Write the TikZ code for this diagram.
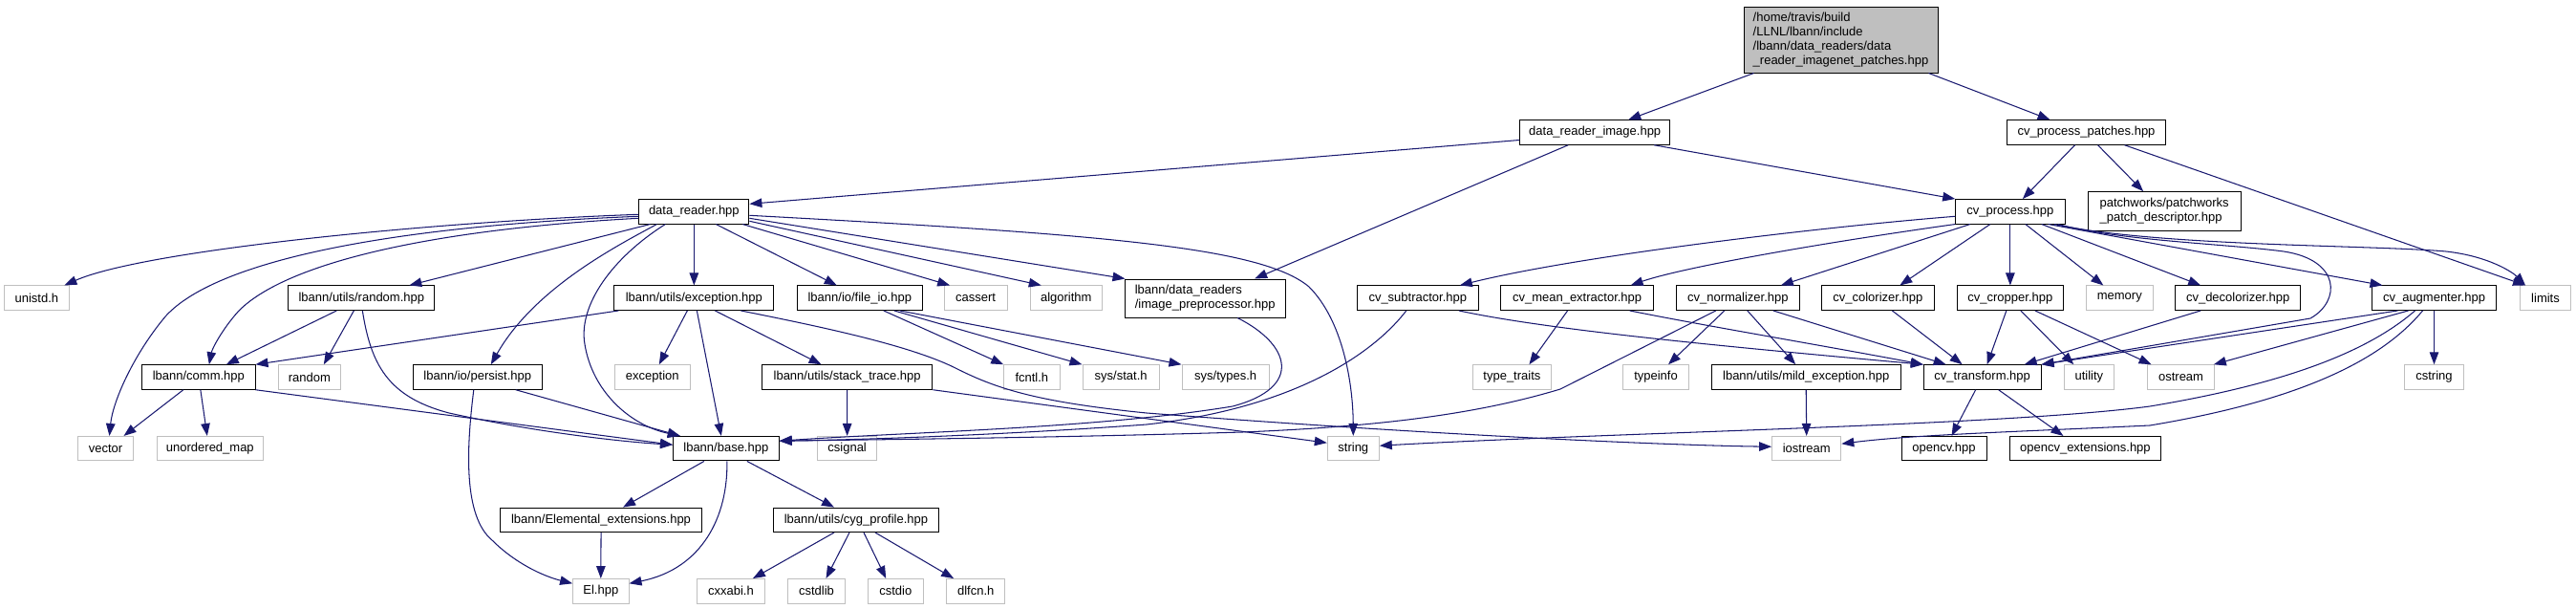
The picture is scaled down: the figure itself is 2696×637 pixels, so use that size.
\documentclass[tikz,border=0pt]{standalone}
\usepackage{fontspec}
\setmainfont{Liberation Sans}
\usetikzlibrary{arrows.meta}
\definecolor{edgec}{HTML}{191970}
\definecolor{graybd}{HTML}{BFBFBF}
\begin{document}
\begin{tikzpicture}[x=1pt,y=-1pt,
  box/.style={draw=black, line width=1pt, minimum height=25.5pt, inner sep=0pt, font=\fontsize{13}{14.8}\selectfont, text=black},
  sys/.style={box, draw=graybd},
  e/.style={draw=edgec, line width=1.05pt, -{Triangle[length=13pt,width=9.5pt]}}
]
\useasboundingbox (0,0) rectangle (2696,637);
% row 0
\node[box,minimum width=203pt,minimum height=69pt,fill=graybd,align=left] (main) at (1926.5,41.5) {/home/travis/build\\/LLNL/lbann/include\\/lbann/data\_readers/data\\\_reader\_imagenet\_patches.hpp};
% row 1
\node[box,minimum width=157.2pt] (dri) at (1669.2,138.5) {data\_reader\_image.hpp};
\node[box,minimum width=166.5pt] (cpp) at (2183.55,138.5) {cv\_process\_patches.hpp};
% row 2
\node[box,minimum width=115.1pt] (dr) at (726.35,221.3) {data\_reader.hpp};
\node[box,minimum width=114.3pt] (cvp) at (2103.85,221.3) {cv\_process.hpp};
\node[box,minimum width=160.3pt,minimum height=40.3pt,align=left] (pw) at (2265.15,220.85) {patchworks/patchworks\\\_patch\_descriptor.hpp};
% row 3
\node[sys,minimum width=67.8pt] (unistd) at (38.4,311.7) {unistd.h};
\node[box,minimum width=153.1pt] (rnd) at (378.35,311.7) {lbann/utils/random.hpp};
\node[box,minimum width=166.9pt] (exc) at (726.35,311.7) {lbann/utils/exception.hpp};
\node[box,minimum width=130.8pt] (fio) at (899.8,311.7) {lbann/io/file\_io.hpp};
\node[sys,minimum width=65.7pt] (cassert) at (1021.15,311.7) {cassert};
\node[sys,minimum width=75pt] (algorithm) at (1115.8,311.7) {algorithm};
\node[box,minimum width=168.3pt,minimum height=40pt,align=left] (ipp) at (1261.15,312) {lbann/data\_readers\\/image\_preprocessor.hpp};
\node[box,minimum width=127pt] (csub) at (1483.8,311.7) {cv\_subtractor.hpp};
\node[box,minimum width=159.6pt] (cmean) at (1650.6,311.7) {cv\_mean\_extractor.hpp};
\node[box,minimum width=128.4pt] (cnorm) at (1818.8,311.7) {cv\_normalizer.hpp};
\node[box,minimum width=117.3pt] (ccol) at (1965.35,311.7) {cv\_colorizer.hpp};
\node[box,minimum width=110.3pt] (ccrop) at (2103.85,311.7) {cv\_cropper.hpp};
\node[sys,minimum width=70pt] (memory) at (2218.3,311.7) {memory};
\node[box,minimum width=131pt] (cdecol) at (2342.2,311.7) {cv\_decolorizer.hpp};
\node[box,minimum width=129.6pt] (caug) at (2547.5,311.7) {cv\_augmenter.hpp};
\node[sys,minimum width=53.4pt] (limits) at (2664,311.7) {limits};
% row 4
\node[box,minimum width=118.3pt] (comm) at (207.85,394.5) {lbann/comm.hpp};
\node[sys,minimum width=65.7pt] (random) at (323.85,394.5) {random};
\node[box,minimum width=134.4pt] (persist) at (499.8,394.5) {lbann/io/persist.hpp};
\node[sys,minimum width=79pt] (exception) at (682.8,394.5) {exception};
\node[box,minimum width=178.6pt] (st) at (886.6,394.5) {lbann/utils/stack\_trace.hpp};
\node[sys,minimum width=58.3pt] (fcntl) at (1079.85,394.5) {fcntl.h};
\node[sys,minimum width=80.3pt] (sysstat) at (1173.15,394.5) {sys/stat.h};
\node[sys,minimum width=91.3pt] (systypes) at (1282.65,394.5) {sys/types.h};
\node[sys,minimum width=82.8pt] (typetraits) at (1582.4,394.5) {type\_traits};
\node[sys,minimum width=68.4pt] (typeinfo) at (1733,394.5) {typeinfo};
\node[box,minimum width=197.6pt] (mild) at (1890.2,394.5) {lbann/utils/mild\_exception.hpp};
\node[box,minimum width=122.7pt] (ctr) at (2074.65,394.5) {cv\_transform.hpp};
\node[sys,minimum width=52.7pt] (utility) at (2186.35,394.5) {utility};
\node[sys,minimum width=69.5pt] (ostream) at (2282.55,394.5) {ostream};
\node[sys,minimum width=61.6pt] (cstring) at (2547.5,394.5) {cstring};
% row 5
\node[sys,minimum width=58.4pt] (vector) at (110.5,469.2) {vector};
\node[sys,minimum width=110.3pt] (umap) at (219.85,469.2) {unordered\_map};
\node[box,minimum width=110.7pt] (base) at (759.85,469.2) {lbann/base.hpp};
\node[sys,minimum width=62.5pt] (csignal) at (886.65,469.2) {csignal};
\node[sys,minimum width=54pt] (string) at (1416.3,469.2) {string};
\node[sys,minimum width=72.2pt] (iostream) at (1890.7,469.2) {iostream};
\node[box,minimum width=89pt] (ocv) at (2034.5,469.2) {opencv.hpp};
\node[box,minimum width=158.4pt] (ocvx) at (2182.4,469.2) {opencv\_extensions.hpp};
% row 6
\node[box,minimum width=210.7pt] (elx) at (629.05,543.8) {lbann/Elemental\_extensions.hpp};
\node[box,minimum width=173.2pt] (cyg) at (896,543.8) {lbann/utils/cyg\_profile.hpp};
% row 7
\node[sys,minimum width=58.4pt] (El) at (628.8,618.3) {El.hpp};
\node[sys,minimum width=70.1pt] (cxxabi) at (764.95,618.3) {cxxabi.h};
\node[sys,minimum width=59.8pt] (cstdlib) at (854.5,618.3) {cstdlib};
\node[sys,minimum width=57.5pt] (cstdio) at (937.25,618.3) {cstdio};
\node[sys,minimum width=61.2pt] (dlfcn) at (1021.2,618.3) {dlfcn.h};

% edges from main
\draw[e] ([xshift=-91pt]main.south) -- ([xshift=35pt]dri.north);
\draw[e] ([xshift=92pt]main.south) -- ([xshift=-38pt]cpp.north);
% data_reader_image
\draw[e] ([yshift=-8pt]dri.west) -- ([yshift=8pt]dr.east);
\draw[e] ([xshift=-28pt]dri.south) -- ([xshift=52pt]ipp.north);
\draw[e] ([xshift=62pt]dri.south) -- (cvp.north west);
% cv_process_patches
\draw[e] ([xshift=-12pt]cpp.south) -- ([xshift=13pt]cvp.north);
\draw[e] ([xshift=12pt]cpp.south) -- ([xshift=-22pt]pw.north);
\draw[e] ([xshift=40pt]cpp.south) -- ([xshift=-21pt]limits.north);
% data_reader
\draw[e] ([yshift=-3pt]dr.west) .. controls (450,232) and (150,262) .. ([xshift=29pt]unistd.north);
\draw[e] ([yshift=-5pt]dr.west) .. controls (420,236) and (230,270) .. (174,330) .. controls (140,370) and (118,420) .. ([xshift=4pt]vector.north);
\draw[e] ([yshift=-7pt]dr.west) .. controls (450,240) and (300,275) .. (250,325) .. controls (232,345) and (222,365) .. ([xshift=11pt]comm.north);
\draw[e] ([xshift=-46pt]dr.south) -- ([xshift=50pt]rnd.north);
\draw[e] ([xshift=-39pt]dr.south) .. controls (650,255) and (560,300) .. ([xshift=14pt]persist.north);
\draw[e] ([xshift=-30pt]dr.south) .. controls (640,270) and (605,320) .. (612,360) .. controls (620,410) and (660,445) .. ([xshift=-48pt]base.north);
\draw[e] (dr.south) -- (exc.north);
\draw[e] ([xshift=23pt]dr.south) -- ([xshift=-24pt]fio.north);
\draw[e] ([xshift=51pt]dr.south) -- ([xshift=-27pt]cassert.north);
\draw[e] ([yshift=-10pt]dr.east) -- ([xshift=-26pt]algorithm.north);
\draw[e] ([yshift=-7pt]dr.east) -- ([xshift=1pt]ipp.north west);
\draw[e] ([yshift=-4pt]dr.east) .. controls (1150,245) and (1320,258) .. (1370,300) .. controls (1405,335) and (1416,400) .. (string.north);
% random.hpp
\draw[e] ([xshift=-26pt]rnd.south) -- ([xshift=29pt]comm.north);
\draw[e] ([xshift=-8pt]rnd.south) -- ([xshift=15pt]random.north);
\draw[e] ([xshift=1pt]rnd.south) .. controls (388,380) and (405,415) .. (470,432) .. controls (560,452) and (650,462) .. ([yshift=4pt]base.west);
% comm
\draw[e] (comm.south east) -- ([yshift=4pt]base.west);
\draw[e] ([xshift=-16pt]comm.south) -- ([xshift=19pt]vector.north);
\draw[e] ([xshift=2pt]comm.south) -- ([xshift=-3pt]umap.north);
% exception.hpp
\draw[e] ([xshift=-79pt]exc.south) -- (comm.north east);
\draw[e] ([xshift=-7pt]exc.south) -- ([xshift=7pt]exception.north);
\draw[e] ([xshift=3pt]exc.south) -- ([xshift=-5pt]base.north);
\draw[e] ([xshift=22pt]exc.south) -- ([xshift=-27pt]st.north);
\draw[e] ([xshift=49pt]exc.south) .. controls (850,340) and (950,360) .. (1000,385) .. controls (1040,405) and (1080,420) .. (1200,432) .. controls (1500,455) and (1750,466) .. ([yshift=2pt]iostream.west);
% file_io
\draw[e] ([xshift=25pt]fio.south) -- (fcntl.north west);
\draw[e] ([xshift=36pt]fio.south) -- (sysstat.north west);
\draw[e] ([xshift=42pt]fio.south) -- (systypes.north west);
% persist
\draw[e] ([xshift=40pt]persist.south) -- ([xshift=-48pt]base.north);
\draw[e] ([xshift=-4pt]persist.south) .. controls (488,470) and (485,540) .. (515,565) .. controls (540,590) and (570,603) .. ([yshift=8pt]El.west);
% stack_trace
\draw[e] (st.south) -- (csignal.north);
\draw[e] (st.south east) -- ([yshift=6pt]string.west);
% base
\draw[e] ([xshift=-23pt]base.south) -- ([xshift=23pt]elx.north);
\draw[e] ([xshift=1pt]base.south) .. controls (762,540) and (735,595) .. ([yshift=8pt]El.east);
\draw[e] ([xshift=22pt]base.south) -- ([xshift=-23pt]cyg.north);
\draw[e] (elx.south) -- (El.north);
% cyg_profile
\draw[e] ([xshift=-23pt]cyg.south) -- ([xshift=23pt]cxxabi.north);
\draw[e] ([xshift=-7pt]cyg.south) -- ([xshift=10pt]cstdlib.north);
\draw[e] ([xshift=8pt]cyg.south) -- ([xshift=-10pt]cstdio.north);
\draw[e] ([xshift=20pt]cyg.south) -- ([xshift=-23pt]dlfcn.north);
% image_preprocessor
\draw[e] ([xshift=34pt]ipp.south) .. controls (1350,360) and (1365,405) .. (1290,425) .. controls (1150,448) and (950,452) .. ([yshift=8pt]base.east);
% cv_subtractor
\draw[e] ([xshift=-12pt]csub.south) .. controls (1445,360) and (1370,425) .. (1200,444) .. controls (1050,455) and (900,460) .. ([yshift=8pt]base.east);
\draw[e] ([xshift=43pt]csub.south) .. controls (1620,345) and (1800,362) .. (ctr.north west);
% cv_mean_extractor
\draw[e] ([xshift=-10pt]cmean.south) -- ([xshift=18pt]typetraits.north);
\draw[e] ([xshift=55pt]cmean.south) .. controls (1780,340) and (1900,360) .. (ctr.north west);
% cv_normalizer
\draw[e] ([xshift=-23pt]cnorm.south) -- (1633,407) .. controls (1550,432) and (1450,446) .. (1300,452) .. controls (1100,458) and (900,460) .. ([yshift=8pt]base.east);
\draw[e] ([xshift=-14pt]cnorm.south) -- ([xshift=13pt]typeinfo.north);
\draw[e] ([xshift=10pt]cnorm.south) -- ([xshift=-11pt]mild.north);
\draw[e] ([xshift=37pt]cnorm.south) -- ([xshift=-38pt]ctr.north);
% colorizer, cropper, decolorizer
\draw[e] ([xshift=15pt]ccol.south) -- ([xshift=-21pt]ctr.north);
\draw[e] ([xshift=-4pt]ccrop.south) -- ([xshift=5pt]ctr.north);
\draw[e] ([xshift=11pt]ccrop.south) -- ([xshift=-16pt]utility.north);
\draw[e] ([xshift=26pt]ccrop.south) -- ([xshift=-31pt]ostream.north);
\draw[e] ([xshift=-39pt]cdecol.south) -- ([xshift=44pt]ctr.north);
% augmenter
\draw[e] ([xshift=-38pt]caug.south) -- (ctr.north east);
\draw[e] ([xshift=-27pt]caug.south) -- ([xshift=-1pt]ostream.north east);
\draw[e] (caug.south) -- (cstring.north);
\draw[e] ([xshift=-20pt]caug.south) .. controls (2470,375) and (2370,405) .. (2250,425) .. controls (2100,445) and (1700,452) .. ([yshift=3pt]string.east);
\draw[e] ([xshift=-12pt]caug.south) .. controls (2490,380) and (2400,420) .. (2250,445) .. controls (2100,452) and (2000,455) .. ([yshift=5pt]iostream.east);
% mild, transform
\draw[e] (mild.south) -- (iostream.north);
\draw[e] ([xshift=-7pt]ctr.south) -- ([xshift=8pt]ocv.north);
\draw[e] ([xshift=17pt]ctr.south) -- ([xshift=-23pt]ocvx.north);
% cv_process
\draw[e] ([yshift=-5pt]cvp.west) .. controls (1900,238) and (1650,268) .. ([xshift=44pt]csub.north);
\draw[e] (cvp.south west) .. controls (1900,255) and (1760,280) .. ([xshift=56pt]cmean.north);
\draw[e] ([xshift=-42pt]cvp.south) -- ([xshift=45pt]cnorm.north);
\draw[e] ([xshift=-21pt]cvp.south) -- ([xshift=23pt]ccol.north);
\draw[e] (cvp.south) -- (ccrop.north);
\draw[e] ([xshift=16pt]cvp.south) -- ([xshift=-17pt]memory.north);
\draw[e] ([xshift=33pt]cvp.south) -- ([xshift=-39pt]cdecol.north);
\draw[e] ([xshift=40pt]cvp.south) -- ([xshift=-54pt]caug.north);
\draw[e] ([xshift=46pt]cvp.south) .. controls (2260,258) and (2480,256) .. (2560,263) .. controls (2605,268) and (2630,285) .. ([xshift=-21pt]limits.north);
\draw[e] ([xshift=50pt]cvp.south) .. controls (2220,252) and (2330,255) .. (2390,263) .. controls (2450,272) and (2450,315) .. (2418,333) -- (ctr.north east);
\end{tikzpicture}
\end{document}
